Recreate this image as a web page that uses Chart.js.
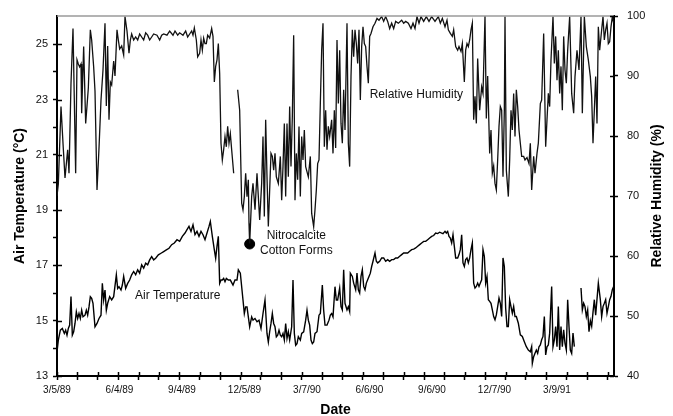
<!DOCTYPE html>
<html>
<head>
<meta charset="utf-8">
<script src="https://cdn.jsdelivr.net/npm/chart.js@4.4.1/dist/chart.umd.min.js"></script>
<style>
  html, body { margin: 0; padding: 0; background: #fff; }
  #c { display: block; }
</style>
</head>
<body>
<canvas id="c" width="673" height="416"></canvas>
<script>
// ---- DATA (x = days after 3/5/89) ----
const dateLabels = ['3/5/89','6/4/89','9/4/89','12/5/89','3/7/90','6/6/90','9/6/90','12/7/90','3/9/91'];
const tickCount = 28;               // monthly tick marks, one third of a quarter apart
const tempTickValues = [13,14,15,16,17,18,19,20,21,22,23,24,25];
const tempTickLabels = ['13','','15','','17','','19','','21','','23','','25'];
const rhTickValues = [40,50,60,70,80,90,100];
const rhTickLabels = ['40','50','60','70','80','90','100'];

const rhDays = [0,2,6,9,12,16,18,21,24,28,30,32,34,36,37,40,43,45,47,50,52,55,57,60,63,66,69,72,74,76,78,80,82,85,87,90,92,94,97,100,102,105,108,110,112,115,118,121,124,127,130,133,136,139,142,145,150,154,157,160,165,169,174,177,181,184,189,193,196,199,202,204,206,209,211,
214,216,218,220,222,224,226,229,232,234,236,238,240,242,244,246,248,250,252,254,256,258,260,262,265,268,271,274,277,279,281,283,285,287,288,289,292,294,297,300,302,304,307,309,311,313,315,317,319,321,323,325,327,329,332,335,337,339,341,343,345,347,349,351,353,355,357,359,361,363,365,367,369,371,373,377,380,382,385,387,389,391,393,395,397,399,401,403,405,407,409,412,414,416,418,420,422,424,426,428,430,432,435,437,439,441,443,445,447,449,451,453,455,457,459,461,463,465,467,469,471,474,477,480,483,487,490,493,496,499,502,505,508,512,517,520,523,527,531,534,537,540,543,546,550,554,558,562,567,572,575,578,582,585,587,590,593,595,598,601,603,606,608,611,613,615,617,619,621,623,625,627,629,631,634,637,639,642,644,646,649,651,653,655,657,659,661,663,665,667,669,671,672,674,677,679,681,683,685,687,689,691,693,695,697,700,702,705,708,710,712,715,717,720,722,725,727,730,733,735,737,739,741,744,746,748,750,752,754,756,758,760,762,764,766,769,772,775,777,780,783,786,788,791,794,797,800,802,804,806,808,810,812,814,817,819,821,823,825,827,829,831,833,835];
const rhValues = [70,72,84.9,78.8,73,77.7,73.8,88.8,97.9,73.8,92.7,92,91.5,92,83.8,94.9,82.1,85,88,97.7,96,91.5,87.5,71,78,86,91,98.8,85,95,82.7,89,88.5,92.5,90,97.7,96,94.5,95,93.5,99.9,97.5,93.8,96,97,96,96.5,96,97,96.5,96,97.2,96.8,96,96.5,97,96.8,96,96.8,97,96.8,97.5,96.8,97.5,96.8,97.2,96.8,97.5,96.5,97,97.5,96.8,98,96,93.2,
93.8,96,94.3,96.3,95.4,95.4,96.8,96.3,97.9,96.6,89,91.6,92.7,95.4,90.4,78.8,76,77.7,79.9,78.2,81.6,78.8,80.4,77.7,73.8,null,87.7,84.3,68.8,67.7,69.9,73.8,69.9,72.7,65.4,62.1,69.9,72.1,67.7,73.8,69.9,66,72.1,79.9,66.6,82.7,73.2,64.9,71,77.1,76.6,74.3,77.1,73.2,72.1,76.6,69.3,74.9,82.1,69.9,82.1,73.2,84.9,74.9,83.2,96.8,69.3,77.1,72.7,81.6,69.9,79.9,76,81,74.9,73.2,76.6,67.1,64.9,67.7,71,75.4,76,85.4,94.3,98.8,78.2,84.3,77.7,81.6,79.9,82.7,77.1,84.3,78,96,85.4,94.3,82.1,78.8,87.7,81,98.8,78.8,74.9,89.9,97.7,93.2,97.7,95.4,92.1,97.7,86,94.9,98.2,95.4,94.9,91.6,88.8,96.6,97.1,98.2,98.8,99.6,99.3,99.9,99.1,99.9,99.1,97.9,98.8,97.9,99.1,98.8,99.3,98.8,99.1,98.8,97.9,98.8,97.9,99.9,98.8,99.9,99.1,99.9,99.1,99.9,99.1,99.9,98.8,99.6,98.2,99.3,97.7,97.1,96.6,97.7,94.9,94.3,94.9,94.1,95.4,89,94.3,95.4,94.9,96,97.7,98.8,82.7,86.6,82.1,92.9,84.3,88.2,87.1,100,82.9,90,77.1,81,73.8,75,72.1,71,76,81.6,84.9,84.3,73.2,84.3,99.9,74.3,69.9,76,84.3,81,87.1,79.9,87.7,84.9,81,78.8,76.6,76.6,76,76.4,75.4,78.8,71,76.6,73.8,77.1,78.8,85.4,86,97.1,78.2,82.7,87.1,84.9,92.7,99.9,92.1,96.6,89.3,94.3,87.1,91.6,84.3,96.6,91,88.8,94.3,99.9,87.1,83.8,89.9,94.3,91,99.9,83.8,99.9,94.9,92.7,89.9,86.6,78.8,84.3,89.9,82.1,98.2,94.3,97.7,99.9,96,97.7,98.8,95.4,95.7,98.2,99.9,98.8];

const tempDays = [0,2,5,8,11,13,15,17,19,21,23,25,27,29,31,33,35,37,39,42,44,46,48,50,52,54,57,60,63,66,68,70,72,74,76,79,82,85,89,91,93,96,98,100,103,106,109,112,115,118,121,124,127,130,133,136,139,142,145,148,152,156,160,164,168,172,176,180,184,188,192,195,198,201,204,207,210,213,216,219,222,225,228,230,233,236,238,240,242,244,246,248,250,252,254,257,260,264,267,270,272,275,279,281,283,285,287,289,292,294,297,300,303,306,309,312,315,317,319,321,323,325,327,329,331,333,335,337,339,341,343,345,347,349,352,354,356,358,360,362,365,367,370,373,375,377,379,381,383,385,387,390,393,395,398,400,402,405,408,410,412,414,417,419,421,424,426,428,430,432,435,437,439,440,443,445,448,450,452,454,456,458,460,462,464,466,468,470,472,474,477,479,481,484,487,490,493,496,499,502,505,508,511,514,517,520,523,526,529,532,535,538,541,544,547,550,553,556,559,562,565,568,571,574,577,579,582,584,586,588,590,592,594,596,598,601,603,605,607,609,611,613,615,617,619,621,623,625,627,629,631,633,635,637,639,641,643,645,647,649,651,653,655,657,659,661,663,665,667,669,671,673,675,677,679,681,683,685,687,689,692,695,698,701,704,707,710,712,713,715,717,719,721,723,725,727,729,731,733,735,737,739,742,744,746,748,750,752,754,756,758,760,762,764,766,768,770,772,774,776,779,786,788,790,792,794,796,798,800,802,804,806,808,812,815,817,819,821,823,825,827,829,831,833,835];
const tempValues = [13.87,14.3,14.66,14.72,14.54,14.66,14.48,14.72,14.84,15.87,14.48,14.6,14.9,15.32,15.08,15.26,15.08,15.38,15.14,15.2,15.38,15.2,15.5,15.87,15.81,15.63,14.78,14.9,15.08,15.2,16.35,15.75,16.11,15.38,15.63,15.87,15.75,15.87,16.66,16.17,16.23,16.11,16.29,16.6,16.17,16.35,16.47,16.66,16.78,16.66,16.84,16.72,17.02,16.9,17.08,17.02,17.2,17.32,17.2,17.26,17.38,17.44,17.5,17.56,17.62,17.75,17.81,17.93,17.87,18.05,18.17,18.29,18.41,18.23,18.47,18.11,18.23,18.05,18.23,18.11,17.93,18.17,18.41,18.59,18.05,17.56,17.26,17.69,18.05,16.35,16.47,16.47,16.53,16.41,16.53,16.47,16.47,16.29,16.47,16.47,16.84,16.72,15.75,15.26,15.5,15.5,15.14,14.78,15.14,15.02,15.08,14.96,15.02,14.72,15.26,15.75,14.54,14.23,14.6,14.9,15.26,14.9,14.78,14.42,14.48,14.66,14.48,14.42,14.54,14.3,14.9,14.36,14.6,14.3,14.78,16.47,14.54,14.11,14.17,14.42,14.3,14.54,14.6,15.02,15.38,15.02,14.84,14.3,14.17,14.23,14.54,14.6,15.2,15.26,16.29,15.38,14.84,14.84,15.02,15.2,15.26,15.14,16.23,15.75,15.75,16.18,15.51,15.39,16.84,15.63,15.39,15.51,15.33,16.72,16.6,16.36,16.12,16.72,16.12,16.0,16.6,16.84,16.24,16.12,16.36,16.48,16.6,16.72,16.96,17.15,17.45,17.15,17.09,17.15,17.27,17.27,17.15,17.21,17.15,17.21,17.21,17.27,17.27,17.33,17.39,17.45,17.45,17.45,17.51,17.57,17.59,17.63,17.69,17.75,17.81,17.87,17.87,17.93,17.99,18.05,18.08,18.17,18.15,18.2,18.17,18.15,18.23,18.17,18.23,18.05,17.99,17.81,18.11,17.69,17.27,17.27,17.39,17.57,18.11,17.09,16.96,17.21,17.27,17.09,17.27,17.57,17.81,16.36,16.18,16.24,16.36,16.24,16.36,16.48,17.57,17.33,16.36,16.6,15.76,15.7,15.63,15.39,15.15,15.03,15.21,15.51,15.82,15.63,15.15,17.27,16.96,15.45,14.79,14.79,15.76,15.51,15.27,15.51,15.15,15.15,14.91,14.49,14.43,14.24,14.06,13.94,13.88,14.06,13.46,13.7,13.82,13.94,13.82,14.06,14.12,14.31,14.43,15.15,13.76,14.06,14.12,14.55,16.24,14.06,14.31,14.79,14.06,15.51,13.94,14.79,14.06,14.67,14.18,13.94,15.76,14.79,13.94,13.82,14.55,14.06,null,16.18,15.39,15.63,15.51,15.15,15.39,14.6,15.0,14.8,15.3,15.76,15.2,16.36,15.76,15.15,15.51,15.63,15.76,15.27,15.51,15.76,15.88,16.12,16.24];

const markDays = [289];
const markRH = [62];

const notes = [
  { text: 'Relative Humidity', day: 539, axis: 'yH', value: 86.9 },
  { text: 'Air Temperature', day: 181, axis: 'yT', value: 15.89 },
  { text: 'Nitrocalcite', day: 359, axis: 'yT', value: 18.07 },
  { text: 'Cotton Forms', day: 359, axis: 'yT', value: 17.52 }
];

const tickDays = Array.from({ length: tickCount }, (_, i) => i * 734 / 24);
const labelSlots = dateLabels.map((_, i) => i);
const toPts = (xs, ys) => xs.map((d, i) => ({ x: d, y: ys[i] }));

const FONT = '"Liberation Sans", Arial, Helvetica, sans-serif';
Chart.defaults.font.family = FONT;
Chart.defaults.color = '#000';

const overlay = {
  id: 'overlay',
  afterDraw(chart) {
    const { ctx, chartArea: a, scales } = chart;
    ctx.save();
    // top frame line
    ctx.strokeStyle = '#9a9a9a';
    ctx.lineWidth = 1.5;
    ctx.beginPath(); ctx.moveTo(a.left, a.top); ctx.lineTo(a.right, a.top); ctx.stroke();
    // inward tick marks
    ctx.strokeStyle = '#000';
    ctx.lineWidth = 1.5;
    ctx.beginPath();
    scales.x.ticks.forEach(t => {
      const p = Math.round(scales.x.getPixelForValue(t.value)) + 0.5;
      ctx.moveTo(p, a.bottom); ctx.lineTo(p, a.bottom - 4);
    });
    scales.yT.ticks.forEach((t, i) => {
      if (!tempTickLabels[i]) return;
      const p = Math.round(scales.yT.getPixelForValue(t.value)) + 0.5;
      ctx.moveTo(a.left, p); ctx.lineTo(a.left + 5, p);
    });
    scales.yH.ticks.forEach(t => {
      const p = Math.round(scales.yH.getPixelForValue(t.value)) + 0.5;
      ctx.moveTo(a.right, p); ctx.lineTo(a.right - 4, p);
    });
    ctx.stroke();
    // annotations
    ctx.fillStyle = '#111';
    ctx.font = '12px ' + FONT;
    ctx.textAlign = 'center';
    ctx.textBaseline = 'middle';
    notes.forEach(n => {
      ctx.fillText(n.text, scales.x.getPixelForValue(n.day), scales[n.axis].getPixelForValue(n.value));
    });
    // right axis title (reads bottom to top)
    ctx.fillStyle = '#000';
    ctx.font = 'bold 14px ' + FONT;
    ctx.translate(scales.yH.right - 15.5, (a.top + a.bottom) / 2);
    ctx.rotate(-Math.PI / 2);
    ctx.fillText('Relative Humidity (%)', 0, 0);
    ctx.restore();
  }
};

const gridOpts = { drawOnChartArea: false, drawTicks: true, tickLength: 4, tickWidth: 1.5, tickColor: '#000' };
const borderOpts = { display: true, color: '#000', width: 2 };

new Chart(document.getElementById('c'), {
  type: 'line',
  data: {
    datasets: [
      {
        label: 'Relative Humidity',
        data: toPts(rhDays, rhValues),
        xAxisID: 'x',
        yAxisID: 'yH',
        borderColor: '#111',
        borderWidth: 1.3,
        pointRadius: 0,
        tension: 0,
        spanGaps: false
      },
      {
        label: 'Air Temperature',
        data: toPts(tempDays, tempValues),
        xAxisID: 'x',
        yAxisID: 'yT',
        borderColor: '#000',
        borderWidth: 1.4,
        pointRadius: 0,
        tension: 0,
        spanGaps: false
      },
      {
        type: 'scatter',
        label: 'Nitrocalcite Cotton Forms',
        data: toPts(markDays, markRH),
        xAxisID: 'x',
        yAxisID: 'yH',
        pointRadius: 5,
        pointBackgroundColor: '#000',
        pointBorderColor: '#000',
        showLine: false
      }
    ]
  },
  options: {
    responsive: false,
    animation: false,
    devicePixelRatio: 1,
    layout: { padding: { top: 16, left: 0, right: 0, bottom: 0 } },
    plugins: { legend: { display: false }, tooltip: { enabled: false } },
    scales: {
      x: {
        type: 'linear',
        position: 'bottom',
        weight: 0,
        min: 0,
        max: 835.5,
        afterBuildTicks: s => { s.ticks = tickDays.map(v => ({ value: v })); },
        afterFit: s => { s.height = 4; },
        ticks: { display: false, autoSkip: false },
        grid: gridOpts,
        border: borderOpts
      },
      xLab: {
        type: 'linear',
        position: 'bottom',
        weight: 1,
        min: 0,
        max: 8.912,
        afterBuildTicks: s => { s.ticks = labelSlots.map(v => ({ value: v })); },
        afterFit: s => { s.height = 36; },
        ticks: {
          autoSkip: false,
          maxRotation: 0,
          padding: 4.7,
          font: { size: 10 },
          color: '#111',
          callback: (v, i) => dateLabels[i]
        },
        grid: { display: false, drawTicks: false, tickLength: 0 },
        border: { display: false },
        title: { display: true, text: 'Date', font: { size: 14, weight: 'bold' }, color: '#000', padding: { top: 0, bottom: -2.4 } }
      },
      yT: {
        type: 'linear',
        position: 'left',
        min: 13,
        max: 26.02,
        afterBuildTicks: s => { s.ticks = tempTickValues.map(v => ({ value: v })); },
        afterFit: s => { s.width = 57; },
        ticks: { padding: 5, font: { size: 11 }, color: '#111', callback: (v, i) => tempTickLabels[i] },
        grid: gridOpts,
        border: borderOpts,
        title: { display: true, text: 'Air Temperature (°C)', font: { size: 14, weight: 'bold' }, color: '#000', padding: { top: 11.6, bottom: 0 } }
      },
      yH: {
        type: 'linear',
        position: 'right',
        min: 40,
        max: 100,
        afterBuildTicks: s => { s.ticks = rhTickValues.map(v => ({ value: v })); },
        afterFit: s => { s.width = 59; },
        ticks: { padding: 9, font: { size: 11 }, color: '#111', callback: (v, i) => rhTickLabels[i] },
        grid: gridOpts,
        border: borderOpts,
        title: { display: false }
      }
    }
  },
  plugins: [overlay]
});
</script>
</body>
</html>
